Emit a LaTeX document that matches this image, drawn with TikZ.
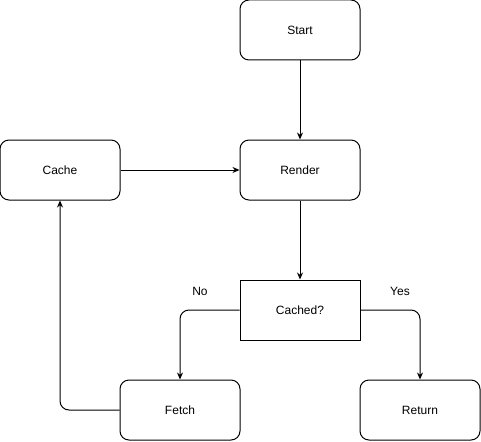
\documentclass[tikz,border=0pt]{standalone}
\usepackage{fontspec}
\setmainfont{Liberation Sans}
\usepackage{tikz}
\usetikzlibrary{shapes.geometric, arrows.meta}

\begin{document}
\begin{tikzpicture}[
		    x=1pt, y=-1pt,
		    every node/.style={font=\fontsize{12}{14}\selectfont},
		    every path/.style={line width=1pt},
		    >={Stealth[length=7pt,width=6pt]}
		]
		\tikzset{
		    passo/.style={draw, rounded corners=9pt, minimum width=120pt, minimum height=60pt, inner sep=0pt},
		    teste/.style={draw, minimum width=120pt, minimum height=60pt, inner sep=0pt},
		    rotulo/.style={font=\fontsize{12}{14}\selectfont}
		}
		\useasboundingbox (0,0) rectangle (481,441);
		\node[passo] (start) at (300,30) {Start};
		\node[passo] (render) at (300,170) {Render};
		\node[passo] (cache) at (60,170) {Cache};
		\node[teste] (cached) at (300,310) {Cached?};
		\node[passo] (fetch) at (180,410) {Fetch};
		\node[passo] (return) at (420,410) {Return};
		\draw[->] (start) -- (render);
		\draw[->] (cache) -- (render);
		\draw[->] (render) -- (cached);
		\draw[->, rounded corners=9pt] (cached.west) -| (fetch.north);
		\draw[->, rounded corners=9pt] (cached.east) -| (return.north);
		\draw[->, rounded corners=9pt] (fetch.west) -| (cache.south);
		\node[rotulo] (nao) at (200,291) {No};
		\node[rotulo] (sim) at (400,291) {Yes};
		\end{tikzpicture}
\end{document}
